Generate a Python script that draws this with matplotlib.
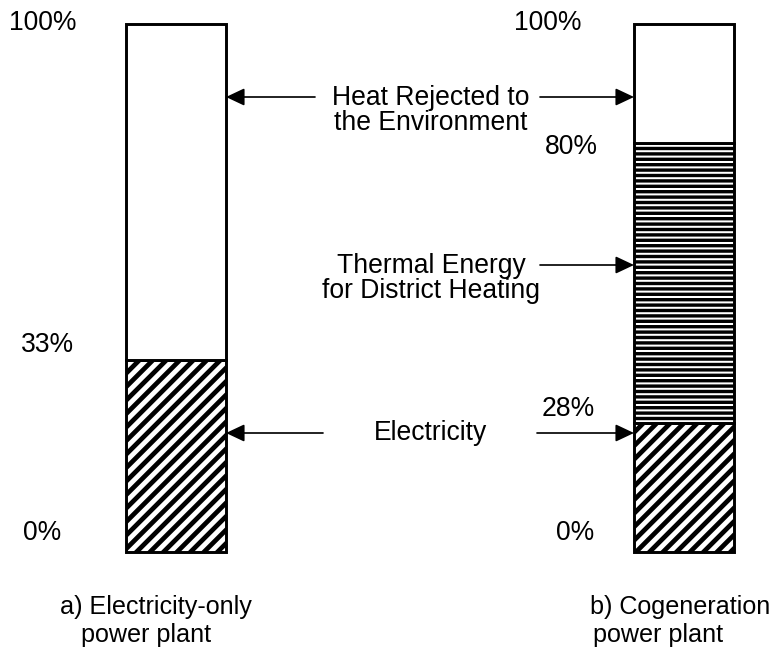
"""
Energy flow of an electricity-only plant vs a cogeneration plant.
Two stacked, hatched columns with arrow call-outs. Saves to out.png
"""
import matplotlib
matplotlib.use("Agg")
import matplotlib.pyplot as plt

# drawn shares (schematic) bottom -> top
PLANTS      = ["a) Electricity-only", "b) Cogeneration"]
PLANTS_SUB  = ["power plant", "power plant"]
ELECTRICITY = [36.4, 24.4]
THERMAL     = [0.0, 53.0]
HEAT        = [63.6, 22.6]

# percent labels printed next to each column
LEFT_LABELS  = ["100%", "33%", "0%"]
RIGHT_LABELS = ["100%", "80%", "28%", "0%"]

DPI = 162
W, H = 783, 652
Y0, PX = 552, 5.28          # pixel row of 0 %, pixels per percent


def py(p):
    """pixel row -> percent units"""
    return (Y0 - p) / PX


def hatch_lw(patches, lw):
    for p in patches:
        if hasattr(p, "set_hatch_linewidth"):
            p.set_hatch_linewidth(lw)


plt.rcParams.update({"font.family": ["Liberation Sans", "DejaVu Sans"],
                     "font.size": 11.8, "hatch.linewidth": 2.0})

fig = plt.figure(figsize=(W / DPI, H / DPI), dpi=DPI)
ax = fig.add_axes([0, 0, 1, 1])
ax.set_xlim(0, W)
ax.set_ylim(py(H), py(0))
ax.axis("off")

xs, width = [176, 684], 100
kw = dict(width=width, edgecolor="black", linewidth=1.3, zorder=2)
b1 = ax.bar(xs, ELECTRICITY, color="white", hatch="////", **kw)
hatch_lw(b1, 2.1)
b2 = ax.bar(xs[1], THERMAL[1], bottom=ELECTRICITY[1], color="white",
            hatch="-----", **kw)
hatch_lw(b2, 1.5)
bottoms = [e + t for e, t in zip(ELECTRICITY, THERMAL)]
ax.bar(xs, HEAT, bottom=bottoms, color="white", **kw)

# percent labels
for lbl, x, y in zip(LEFT_LABELS, [43, 48, 42], [py(23), py(345), py(533)]):
    ax.text(x, y, lbl, ha="center", va="center")
for lbl, x, y in zip(RIGHT_LABELS, [548, 571, 568, 575],
                     [py(23), py(147), py(409), py(533)]):
    ax.text(x, y, lbl, ha="center", va="center")

# call-outs
arr = dict(arrowstyle="-|>,head_length=0.7,head_width=0.33", color="black",
           lw=0.75, mutation_scale=10, shrinkA=0, shrinkB=0)
left_edge, right_edge = xs[0] + width / 2, xs[1] - width / 2

y = py(97)
ax.annotate("", xy=(left_edge, y), xytext=(315, y), arrowprops=arr)
ax.annotate("", xy=(right_edge, y), xytext=(540, y), arrowprops=arr)
ax.text(431, py(110), "Heat Rejected to\nthe Environment", ha="center",
        va="center", linespacing=0.95)

y = py(265)
ax.annotate("", xy=(right_edge, y), xytext=(540, y), arrowprops=arr)
ax.text(431, py(278), "Thermal Energy\nfor District Heating", ha="center",
        va="center", linespacing=0.95)

y = py(433)
ax.annotate("", xy=(left_edge, y), xytext=(323, y), arrowprops=arr)
ax.annotate("", xy=(right_edge, y), xytext=(537, y), arrowprops=arr)
ax.text(430, y, "Electricity", ha="center", va="center")

# captions under the columns
for name, sub, cx, sx in zip(PLANTS, PLANTS_SUB, [156, 680], [146, 658]):
    ax.text(cx, py(607), name, ha="center", va="center", fontsize=11.2)
    ax.text(sx, py(635), sub, ha="center", va="center", fontsize=11.2)

fig.savefig("out.png", dpi=DPI)
